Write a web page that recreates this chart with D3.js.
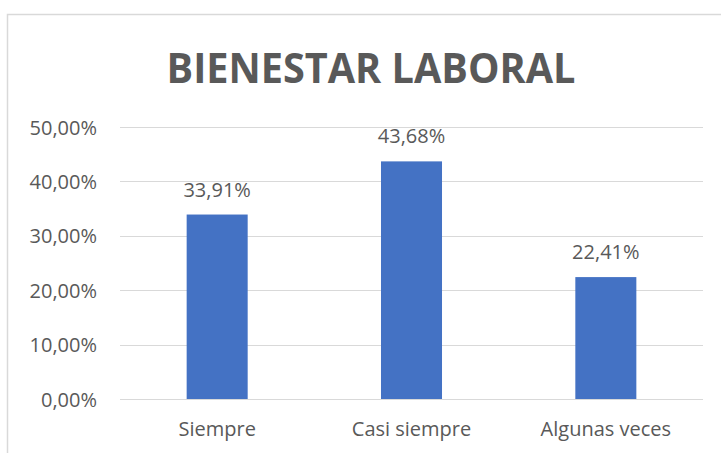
<!DOCTYPE html>
<html>
<head>
<meta charset="utf-8">
<script src="https://cdn.jsdelivr.net/npm/d3@7"></script>
<style>
  body { margin: 0; background: #fff; }
  svg { display: block; }
  text { font-family: "Open Sans", "Noto Sans", sans-serif; fill: #595959; }
</style>
</head>
<body>
<svg id="chart" width="721" height="453"></svg>
<script>
// chart values
const categories = ["Siempre", "Casi siempre", "Algunas veces"]
const values = [33.91, 43.68, 22.41]
const yTicks = [0, 10, 20, 30, 40, 50]
const title = "BIENESTAR LABORAL"

const svg = d3.select("#chart")
const plot = { left: 120, right: 703, top: 127, bottom: 399 }
const labelSize = "20px"

// outer chart frame (clipped at right and bottom like the source)
svg.append("rect")
  .attr("x", 7.5).attr("y", 14.5)
  .attr("width", 740).attr("height", 460)
  .attr("fill", "none")
  .attr("stroke", "#d9d9d9")
  .attr("stroke-width", 1.5)

const x = d3.scaleBand()
  .domain(categories)
  .range([plot.left, plot.right])
  .paddingInner(0.686)
  .paddingOuter(0.343)

const y = d3.scaleLinear()
  .domain([0, 50])
  .range([plot.bottom, plot.top])

const fmt = v => v.toFixed(2).replace(".", ",") + "%"

// gridlines
svg.append("g")
  .selectAll("line")
  .data(yTicks)
  .join("line")
  .attr("x1", plot.left).attr("x2", plot.right)
  .attr("y1", d => Math.round(y(d)) + 0.5)
  .attr("y2", d => Math.round(y(d)) + 0.5)
  .attr("stroke", "#d9d9d9")
  .attr("stroke-width", 1.2)

// y axis labels
const yAxis = svg.append("g")
  .attr("transform", `translate(${plot.left - 23},0)`)
  .call(d3.axisLeft(y).tickValues(yTicks).tickSize(0).tickPadding(0).tickFormat(fmt))
yAxis.select(".domain").remove()
yAxis.selectAll("text")
  .attr("dy", "0.35em")
  .style("font-size", labelSize)
  .style("font-family", "'Open Sans', sans-serif")
  .attr("fill", "#595959")

// bars
svg.append("g")
  .selectAll("rect")
  .data(values)
  .join("rect")
  .attr("x", (d, i) => x(categories[i]))
  .attr("y", d => y(d))
  .attr("width", x.bandwidth())
  .attr("height", d => y(0) - y(d))
  .attr("fill", "#4472c4")

// data labels
svg.append("g")
  .selectAll("text")
  .data(values)
  .join("text")
  .attr("x", (d, i) => x(categories[i]) + x.bandwidth() / 2)
  .attr("y", d => y(d) - 18)
  .attr("text-anchor", "middle")
  .style("font-size", labelSize)
  .text(fmt)

// category labels
const xAxis = svg.append("g")
  .attr("transform", `translate(0,${plot.bottom})`)
  .call(d3.axisBottom(x).tickSize(0).tickPadding(0))
xAxis.select(".domain").remove()
xAxis.selectAll("text")
  .attr("y", 37)
  .attr("dy", 0)
  .style("font-size", labelSize)
  .style("font-family", "'Open Sans', sans-serif")
  .attr("fill", "#595959")

// title
svg.append("text")
  .attr("x", 371)
  .attr("y", 83)
  .attr("text-anchor", "middle")
  .attr("textLength", 409)
  .attr("lengthAdjust", "spacingAndGlyphs")
  .style("font-size", "42px")
  .style("font-weight", "bold")
  .text(title)
</script>
</body>
</html>
